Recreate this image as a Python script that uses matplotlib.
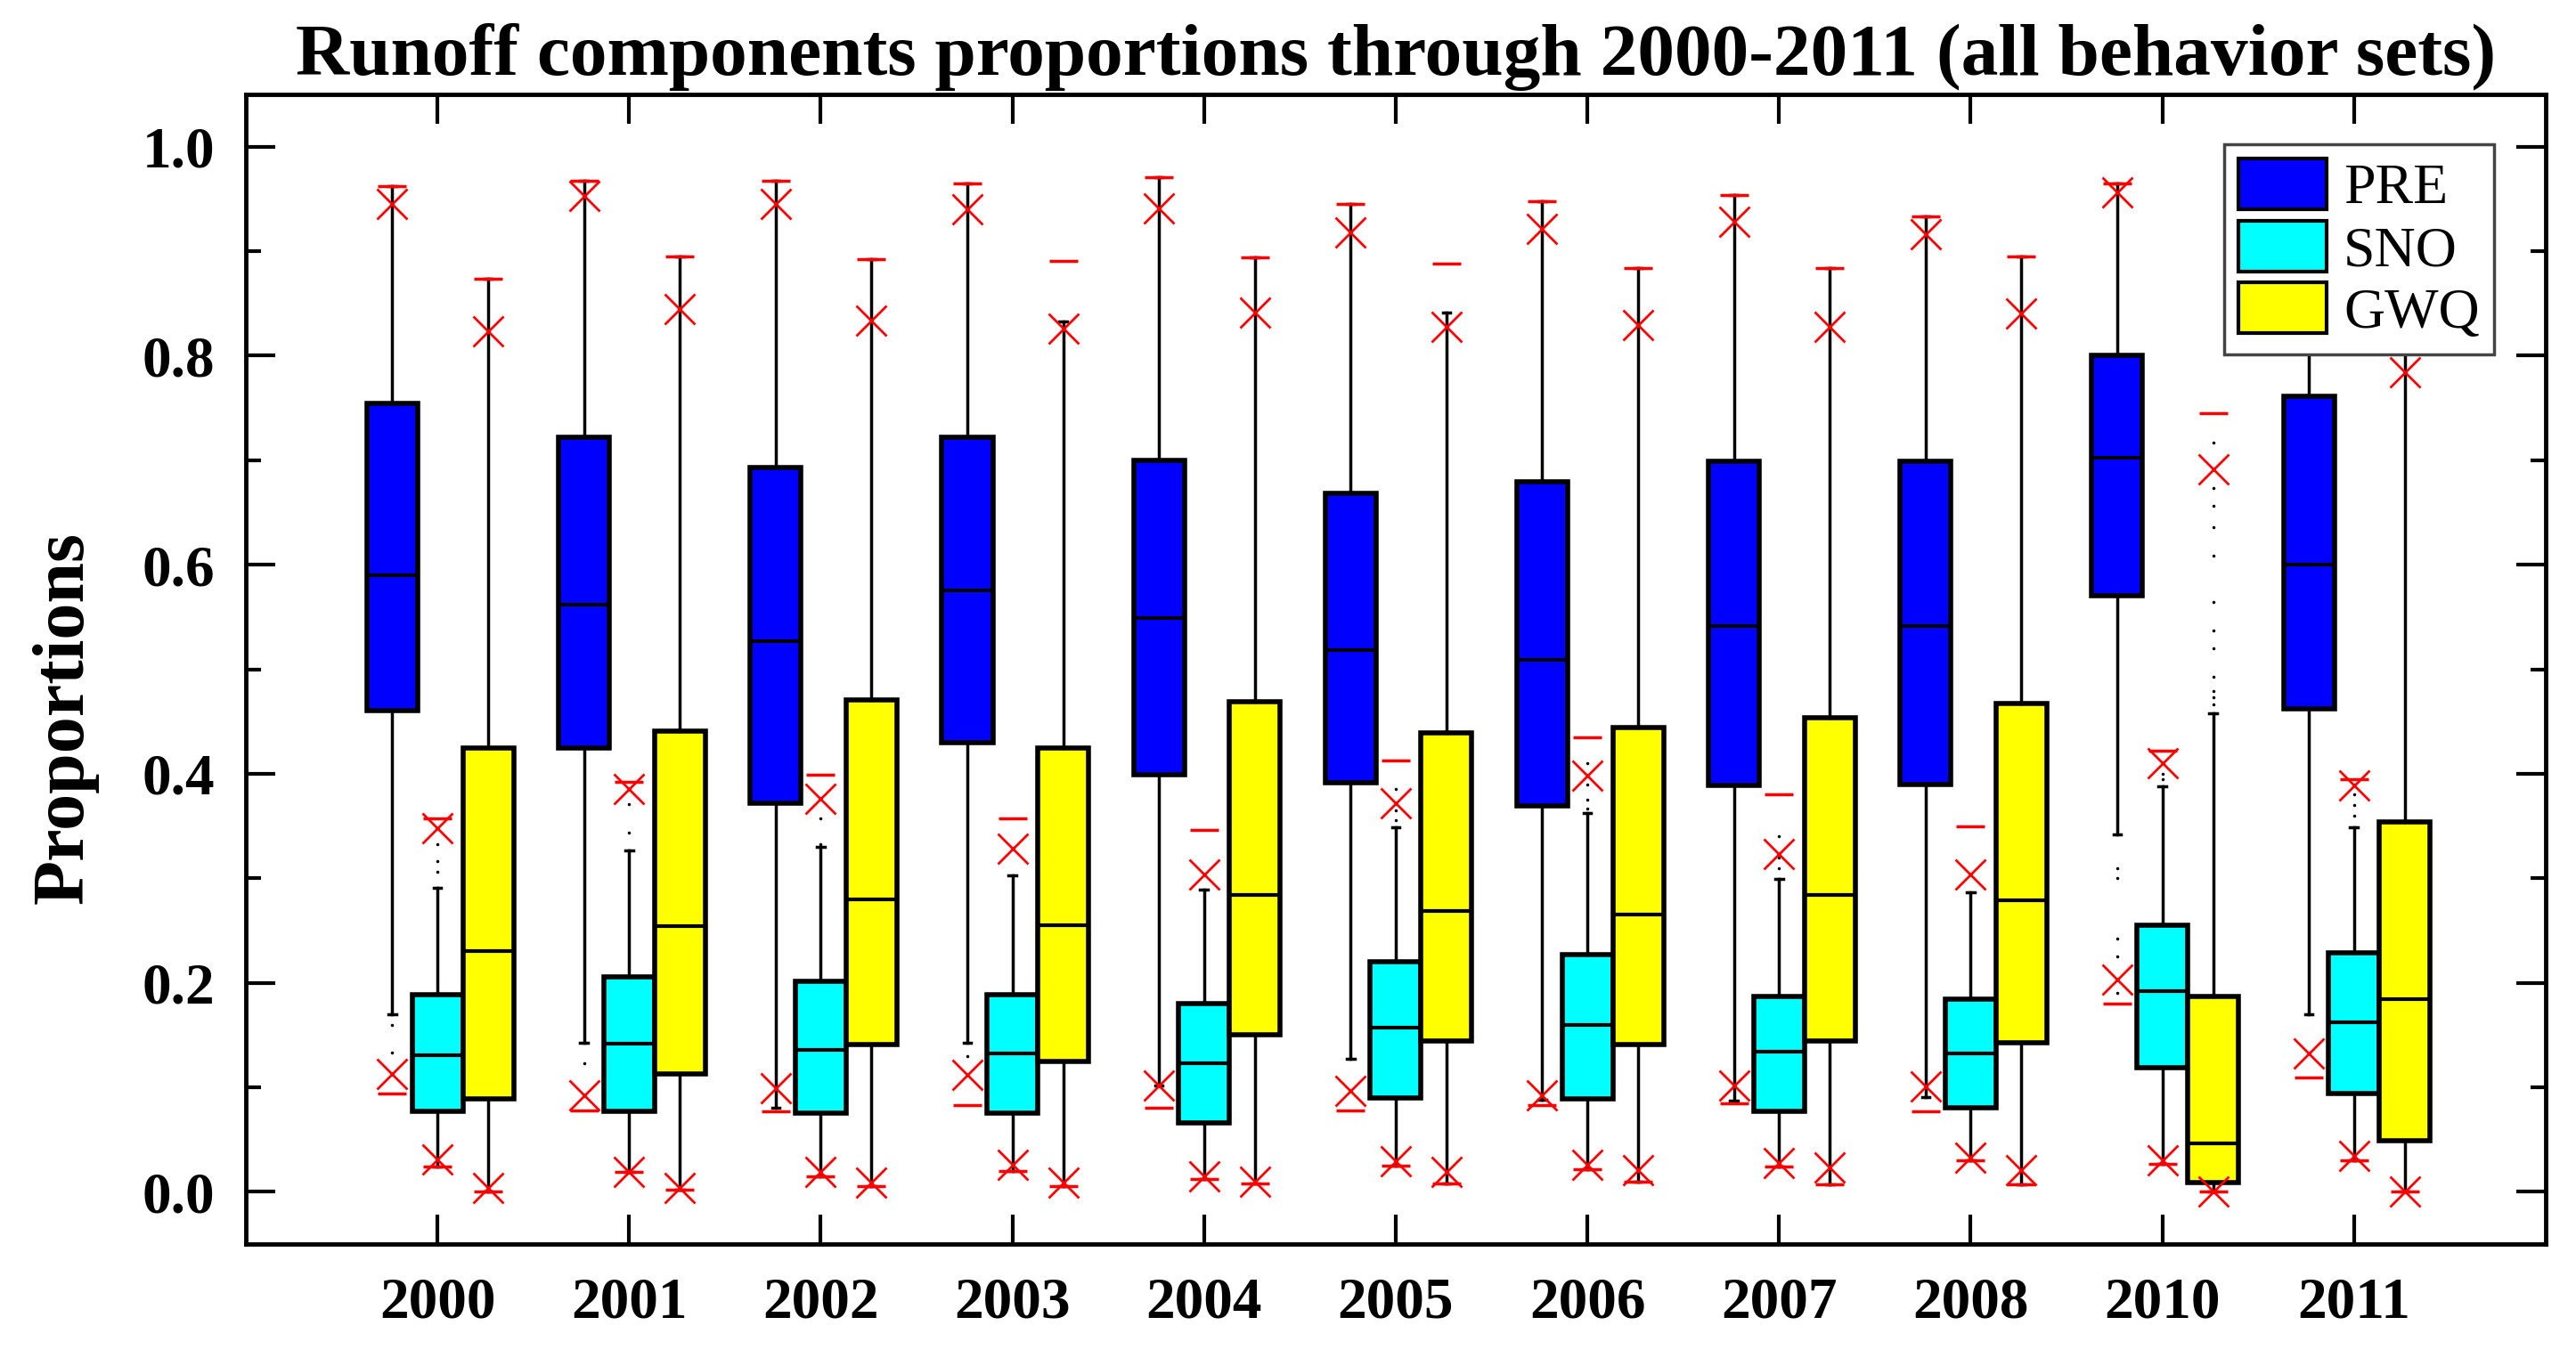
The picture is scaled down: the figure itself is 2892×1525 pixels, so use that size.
import numpy as np
import matplotlib
matplotlib.use("Agg")
import matplotlib.pyplot as plt
from matplotlib.patches import Patch
from matplotlib.ticker import MultipleLocator

plt.rcParams['font.family'] = ['Liberation Serif', 'DejaVu Serif']

years = ['2000', '2001', '2002', '2003', '2004', '2005', '2006', '2007', '2008', '2010', '2011']
series_names = ['PRE', 'SNO', 'GWQ']
colors = ['#0000FF', '#00FFFF', '#FFFF00']

# PRE
pre_q1 = [0.460, 0.425, 0.372, 0.430, 0.399, 0.391, 0.369, 0.389, 0.390, 0.570, 0.462]
pre_med = [0.590, 0.562, 0.527, 0.575, 0.549, 0.518, 0.509, 0.541, 0.541, 0.702, 0.600]
pre_q3 = [0.754, 0.722, 0.693, 0.722, 0.700, 0.668, 0.679, 0.699, 0.699, 0.800, 0.761]
pre_whislo = [0.170, 0.143, 0.080, 0.143, 0.102, 0.127, 0.088, 0.087, 0.091, 0.342, 0.170]
pre_whishi = [0.962, 0.967, 0.967, 0.965, 0.971, 0.945, 0.948, 0.954, 0.933, 0.965, 0.960]
pre_p01 = [0.113, 0.092, 0.099, 0.112, 0.102, 0.097, 0.092, 0.102, 0.101, 0.203, 0.132]
pre_p99 = [0.945, 0.953, 0.945, 0.940, 0.941, 0.918, 0.921, 0.928, 0.916, 0.956, 0.940]
pre_min = [0.094, 0.078, 0.077, 0.083, 0.080, 0.078, 0.083, 0.085, 0.077, 0.180, 0.109]
pre_max = [0.962, 0.967, 0.967, 0.965, 0.971, 0.945, 0.948, 0.954, 0.933, 0.965, 0.960]
pre_fliers = [[0.160, 0.133], [0.123], [], [0.130], [], [], [], [], [],
              [0.310, 0.300, 0.242, 0.225, 0.190], []]

# SNO
sno_q1 = [0.077, 0.077, 0.075, 0.075, 0.066, 0.090, 0.089, 0.077, 0.080, 0.119, 0.094]
sno_med = [0.131, 0.142, 0.136, 0.132, 0.123, 0.157, 0.160, 0.134, 0.132, 0.192, 0.162]
sno_q3 = [0.189, 0.206, 0.201, 0.189, 0.180, 0.220, 0.227, 0.187, 0.184, 0.255, 0.229]
sno_whislo = [0.024, 0.019, 0.015, 0.020, 0.012, 0.025, 0.022, 0.024, 0.030, 0.027, 0.030]
sno_whishi = [0.291, 0.327, 0.330, 0.303, 0.289, 0.349, 0.362, 0.299, 0.287, 0.388, 0.349]
sno_p01 = [0.031, 0.019, 0.019, 0.026, 0.015, 0.029, 0.026, 0.028, 0.033, 0.030, 0.034]
sno_p99 = [0.348, 0.385, 0.376, 0.328, 0.304, 0.372, 0.398, 0.323, 0.304, 0.410, 0.389]
sno_min = [0.024, 0.019, 0.015, 0.020, 0.012, 0.025, 0.022, 0.024, 0.030, 0.027, 0.030]
sno_max = [0.357, 0.392, 0.399, 0.357, 0.346, 0.413, 0.435, 0.380, 0.350, 0.422, 0.395]
sno_fliers = [[0.333, 0.316, 0.306], [0.371, 0.344], [0.357, 0.333], [], [],
              [0.385, 0.365, 0.356], [0.410, 0.390, 0.375, 0.367], [0.340, 0.320, 0.310],
              [], [0.400, 0.395], [0.390, 0.380, 0.370, 0.360]]

# GWQ
gwq_q1 = [0.089, 0.113, 0.141, 0.125, 0.150, 0.144, 0.141, 0.144, 0.143, 0.009, 0.049]
gwq_med = [0.230, 0.254, 0.280, 0.255, 0.284, 0.269, 0.265, 0.284, 0.279, 0.046, 0.184]
gwq_q3 = [0.425, 0.441, 0.471, 0.425, 0.469, 0.439, 0.444, 0.454, 0.467, 0.187, 0.354]
gwq_whislo = [0.000, 0.002, 0.005, 0.005, 0.008, 0.008, 0.010, 0.007, 0.007, 0.000, 0.000]
gwq_whishi = [0.874, 0.895, 0.892, 0.833, 0.894, 0.841, 0.884, 0.884, 0.895, 0.458, 0.880]
gwq_p01 = [0.004, 0.004, 0.009, 0.009, 0.010, 0.019, 0.021, 0.023, 0.021, 0.000, 0.000]
gwq_p99 = [0.823, 0.845, 0.834, 0.826, 0.841, 0.828, 0.829, 0.828, 0.840, 0.691, 0.784]
gwq_min = [0.000, 0.002, 0.005, 0.005, 0.008, 0.008, 0.010, 0.007, 0.007, 0.000, 0.000]
gwq_max = [0.874, 0.895, 0.892, 0.891, 0.894, 0.888, 0.884, 0.884, 0.895, 0.745, 0.880]
gwq_fliers = [[], [], [], [], [], [], [], [], [],
              [0.717, 0.673, 0.656, 0.636, 0.609, 0.564, 0.537, 0.520, 0.493, 0.479, 0.473, 0.466],
              []]

series = [
    (pre_q1, pre_med, pre_q3, pre_whislo, pre_whishi, pre_p01, pre_p99, pre_min, pre_max, pre_fliers),
    (sno_q1, sno_med, sno_q3, sno_whislo, sno_whishi, sno_p01, sno_p99, sno_min, sno_max, sno_fliers),
    (gwq_q1, gwq_med, gwq_q3, gwq_whislo, gwq_whishi, gwq_p01, gwq_p99, gwq_min, gwq_max, gwq_fliers),
]
offsets = [-0.235, 0.0, 0.265]
box_w = 0.265

fig = plt.figure(figsize=(28.92, 15.25), dpi=100)
ax = fig.add_axes([0.0954, 0.0839, 0.9882 - 0.0954, 0.9305 - 0.0839])

x = np.arange(len(years))
for (q1, med, q3, wlo, whi, p01, p99, vmin, vmax, fl), off, col in zip(series, offsets, colors):
    stats = []
    for i in range(len(years)):
        stats.append(dict(q1=q1[i], med=med[i], q3=q3[i], whislo=wlo[i], whishi=whi[i],
                          fliers=fl[i]))
    pos = x + off
    ax.bxp(stats, positions=pos, widths=box_w, patch_artist=True, showfliers=True,
           capwidths=0.04,
           boxprops=dict(facecolor=col, edgecolor='black', linewidth=4),
           medianprops=dict(color='black', linewidth=3),
           whiskerprops=dict(color='black', linewidth=2.5),
           capprops=dict(color='black', linewidth=2.5),
           flierprops=dict(marker='.', markersize=3, markerfacecolor='black',
                           markeredgecolor='black', linestyle='none'),
           manage_ticks=False, zorder=2)
    ax.plot(pos, p99, linestyle='none', marker='x', color='red', markersize=25,
            markeredgewidth=2, zorder=3)
    ax.plot(pos, p01, linestyle='none', marker='x', color='red', markersize=25,
            markeredgewidth=2, zorder=3)
    ax.plot(pos, vmax, linestyle='none', marker='_', color='red', markersize=23,
            markeredgewidth=2.5, zorder=3)
    ax.plot(pos, vmin, linestyle='none', marker='_', color='red', markersize=23,
            markeredgewidth=2.5, zorder=3)

ax.set_xlim(-1.0, 11.0)
ax.set_ylim(-0.05, 1.05)
ax.set_xticks(x)
ax.set_xticklabels(years)
ax.yaxis.set_major_locator(MultipleLocator(0.2))
ax.yaxis.set_minor_locator(MultipleLocator(0.1))
ax.set_yticks([0.0, 0.2, 0.4, 0.6, 0.8, 1.0])
ax.set_yticklabels(['0.0', '0.2', '0.4', '0.6', '0.8', '1.0'])

ax.tick_params(axis='both', which='major', direction='in', length=24, width=3,
               top=True, right=True, pad=26)
ax.tick_params(axis='y', which='major', pad=25)
ax.tick_params(axis='y', which='minor', direction='in', length=12, width=3, right=True)
for lab in ax.get_xticklabels() + ax.get_yticklabels():
    lab.set_fontsize(47)
    lab.set_fontweight('bold')
for sp in ax.spines.values():
    sp.set_linewidth(3.5)

ax.set_title('Runoff components proportions through 2000-2011 (all behavior sets)',
             fontsize=60, fontweight='bold', pad=16)
ax.set_ylabel('Proportions', fontsize=59, fontweight='bold')
ax.yaxis.set_label_coords(-0.064, 0.458)

handles = [Patch(facecolor=c, edgecolor='black', linewidth=3, label=n)
           for c, n in zip(colors, series_names)]
leg = ax.legend(handles=handles, loc='upper right', bbox_to_anchor=(0.9775, 0.9566),
                borderaxespad=0, fontsize=46, handlelength=1.55, handleheight=1.0,
                handletextpad=0.3, labelspacing=0.08, borderpad=0.25, fancybox=False,
                framealpha=1, edgecolor='#444444')
leg.get_frame().set_linewidth(2.5)
leg.set_zorder(10)

fig.savefig('out.png', dpi=100, facecolor='white')
